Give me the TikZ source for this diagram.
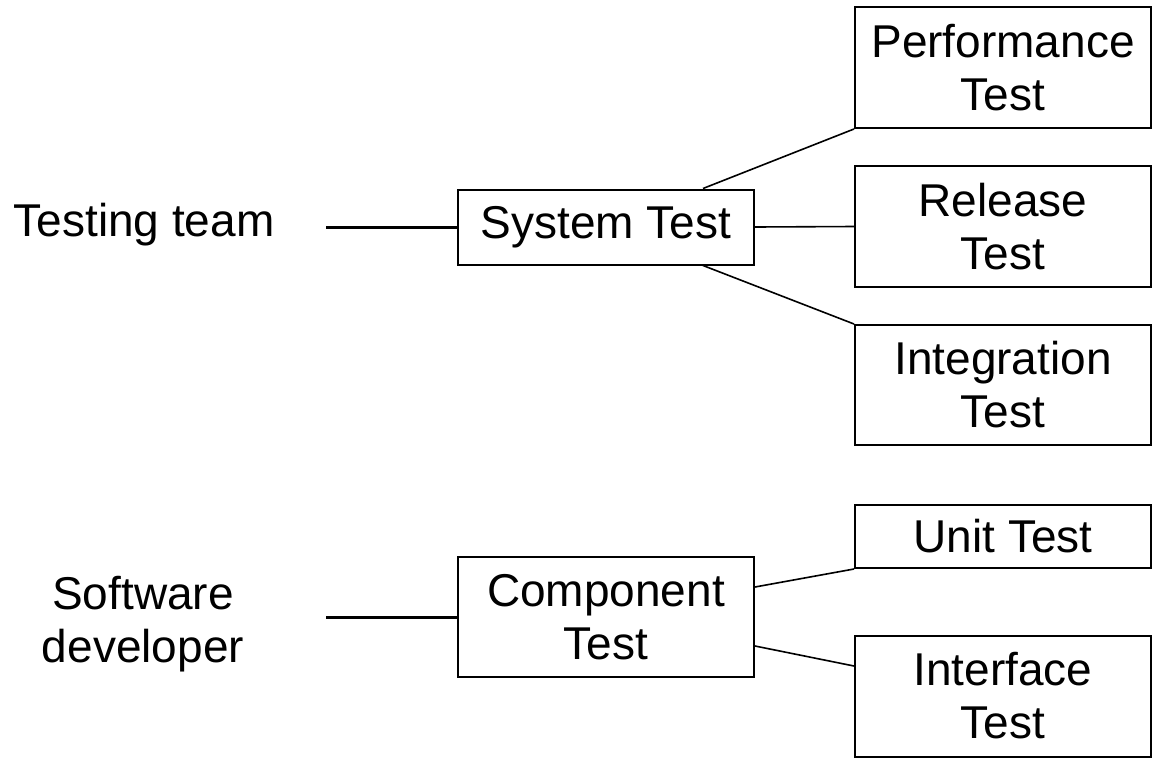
\documentclass[tikz,border=0pt]{standalone}
\usepackage{fontspec}
\setmainfont{Liberation Sans}
\begin{document}
\begin{tikzpicture}[x=1pt,y=-1pt,
  box/.style={draw=black,line width=2pt,minimum width=296pt,align=center,inner sep=0pt,
    font=\fontsize{46}{53}\selectfont},
  lbl/.style={align=center,inner sep=0pt,font=\fontsize{46}{53}\selectfont},
  link/.style={draw=black,line width=1.6pt},
  lead/.style={draw=black,line width=3pt}]
\useasboundingbox (0,0) rectangle (1158,761);
\node[box,minimum height=121pt] (perf) at (1003,67.5) {Performance\\Test};
\node[box,minimum height=121pt] (rel) at (1003,226.5) {Release\\Test};
\node[box,minimum height=120pt] (integ) at (1003,385) {Integration\\Test};
\node[box,minimum height=63pt] (unit) at (1003,536.5) {Unit Test};
\node[box,minimum height=121pt] (iface) at (1003,696) {Interface\\Test};
\node[box,minimum height=75pt] (sys) at (606,227) {System Test};
\node[box,minimum height=120pt] (comp) at (606,617) {Component\\Test};
\node[lbl] (tt) at (144,224.5) {Testing team};
\node[lbl] (sd) at (143,624) {Software\\developer};
\coordinate (ttl) at (326,227);
\coordinate (sdl) at (326,617);
\draw[lead] (ttl) -- (sys.west);
\draw[lead] (sdl) -- (comp.west);
\draw[link] ([xshift=-52pt]sys.north east) -- (perf.south west);
\draw[link] (sys.east) -- (rel.west);
\draw[link] ([xshift=-52pt]sys.south east) -- (integ.north west);
\draw[link] ([yshift=30pt]comp.east) -- (unit.south west);
\draw[link] ([yshift=-29pt]comp.east) -- ([yshift=30pt]iface.west);
\end{tikzpicture}
\end{document}
